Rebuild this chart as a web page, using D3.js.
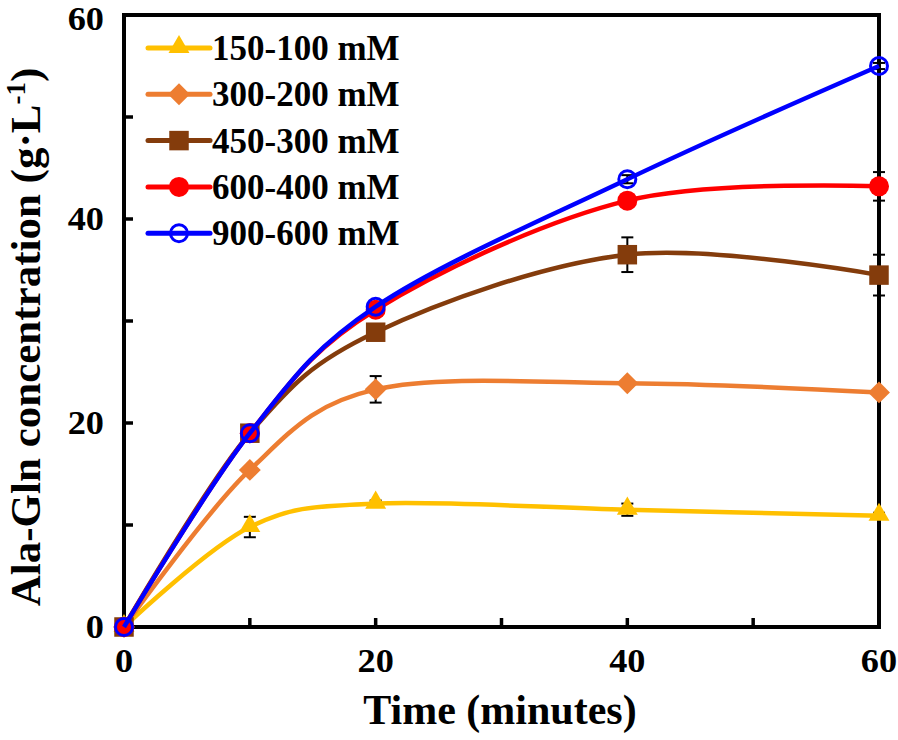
<!DOCTYPE html>
<html>
<head>
<meta charset="utf-8">
<script src="https://cdn.jsdelivr.net/npm/d3@7"></script>
<style>
  body { margin: 0; background: #fff; }
  text { font-family: "Liberation Serif", "Times New Roman", serif; font-weight: bold; fill: #000; }
</style>
</head>
<body>
<div id="chart"></div>
<script>
// 数据
const times = [0, 10, 20, 40, 60];
const names = ["150-100 mM", "300-200 mM", "450-300 mM", "600-400 mM", "900-600 mM"];
const colors = ["#FFC000", "#ED7D31", "#843C0C", "#FF0000", "#0000FF"];
const s150 = [0, 9.8, 12.1, 11.5, 10.9];
const s300 = [0, 15.4, 23.3, 23.9, 23.0];
const s450 = [0, 19.0, 28.9, 36.5, 34.5];
const s600 = [0, 19.0, 31.1, 41.8, 43.2];
const s900 = [0, 19.0, 31.4, 43.9, 55.0];
const e150 = [0, 1.0, 0.3, 0.6, 0.3];
const e300 = [0, 0.3, 1.3, 0.3, 0.3];
const e450 = [0, 0.3, 0.5, 1.7, 2.0];
const e600 = [0, 0.3, 0.4, 0.4, 1.4];
const e900 = [0, 0.3, 0.3, 0.4, 0.3];
const yTicks = [0, 20, 40, 60];
const xTicks = [0, 20, 40, 60];

const seriesVals = [s150, s300, s450, s600, s900];
const seriesErr = [e150, e300, e450, e600, e900];
const markers = ["triangle", "diamond", "square", "circle", "open"];

const W = 898, H = 740;
const svg = d3.select("#chart").append("svg").attr("width", W).attr("height", H);

const x = d3.scaleLinear().domain([0, 60]).range([124, 879]);
const y = d3.scaleLinear().domain([0, 60]).range([627, 15]);

// 标记
function drawMarker(g, type, color) {
    if (type === "triangle") {
        g.append("path").attr("d", d3.symbol(d3.symbolTriangle, 190)()).attr("transform", "translate(0,-1)").attr("fill", color);
    } else if (type === "diamond") {
        g.append("path").attr("d", d3.symbol(d3.symbolSquare, 240)()).attr("transform", "rotate(45)").attr("fill", color);
    } else if (type === "square") {
        g.append("path").attr("d", d3.symbol(d3.symbolSquare, 380)()).attr("fill", color);
    } else if (type === "circle") {
        g.append("circle").attr("r", 10).attr("fill", color);
    } else {
        g.append("circle").attr("r", 8.5).attr("fill", "none").attr("stroke", color).attr("stroke-width", 3);
    }
}

const line = d3.line()
    .x((d, i) => x(times[i]))
    .y(d => y(d))
    .curve(d3.curveCardinal.tension(0));

// 误差线
seriesVals.forEach((vals, s) => {
    vals.forEach((v, i) => {
        const e = seriesErr[s][i];
        if (!e) return;
        const cx = x(times[i]);
        const g = svg.append("g").attr("stroke", "#000").attr("stroke-width", 2);
        g.append("line").attr("x1", cx).attr("x2", cx).attr("y1", y(v + e)).attr("y2", y(v - e));
        g.append("line").attr("x1", cx - 6).attr("x2", cx + 6).attr("y1", y(v + e)).attr("y2", y(v + e));
        g.append("line").attr("x1", cx - 6).attr("x2", cx + 6).attr("y1", y(v - e)).attr("y2", y(v - e));
    });
});

// 坐标框和刻度
svg.append("rect")
    .attr("x", x(0)).attr("y", y(60))
    .attr("width", x(60) - x(0)).attr("height", y(0) - y(60))
    .attr("fill", "none").attr("stroke", "#000").attr("stroke-width", 4);

d3.range(10, 60, 10).forEach(t => {
    svg.append("line").attr("x1", x(t)).attr("x2", x(t)).attr("y1", y(0)).attr("y2", y(0) - 9)
        .attr("stroke", "#000").attr("stroke-width", 3.5);
    svg.append("line").attr("x1", x(0)).attr("x2", x(0) + 9).attr("y1", y(t)).attr("y2", y(t))
        .attr("stroke", "#000").attr("stroke-width", 3.5);
});

svg.selectAll(".ylab").data(yTicks).enter().append("text")
    .attr("transform", d => `translate(104,${Math.max(y(d) + 11, 30)}) scale(1.1,1)`)
    .attr("text-anchor", "end").attr("font-size", 33)
    .text(d => d);

svg.selectAll(".xlab").data(xTicks).enter().append("text")
    .attr("transform", d => `translate(${x(d)},672) scale(1.1,1)`)
    .attr("text-anchor", "middle").attr("font-size", 33)
    .text(d => d);

svg.append("text")
    .attr("x", 500).attr("y", 724)
    .attr("text-anchor", "middle").attr("font-size", 42)
    .text("Time (minutes)");

const yt = svg.append("text")
    .attr("transform", "translate(40,337) rotate(-90)")
    .attr("text-anchor", "middle").attr("font-size", 43);
yt.append("tspan").text("Ala-Gln concentration (g·L");
yt.append("tspan").attr("font-size", 27).attr("dy", -15).text("-1");
yt.append("tspan").attr("dy", 15).text(")");

// 曲线和标记
seriesVals.forEach((vals, s) => {
    svg.append("path").datum(vals)
        .attr("d", line)
        .attr("fill", "none").attr("stroke", colors[s]).attr("stroke-width", 4.5);
    vals.forEach((v, i) => {
        const g = svg.append("g").attr("transform", `translate(${x(times[i])},${y(v)})`);
        drawMarker(g, markers[s], colors[s]);
    });
});

// 图例
names.forEach((n, i) => {
    const cy = 48 + i * 46.3;
    svg.append("line").attr("x1", 148).attr("x2", 210).attr("y1", cy).attr("y2", cy)
        .attr("stroke", colors[i]).attr("stroke-width", 5).attr("stroke-linecap", "round");
    const g = svg.append("g").attr("transform", `translate(179,${cy})`);
    drawMarker(g, markers[i], colors[i]);
    svg.append("text").attr("x", 212).attr("y", cy + 12)
        .attr("font-size", 35).text(n);
});
</script>
</body>
</html>
